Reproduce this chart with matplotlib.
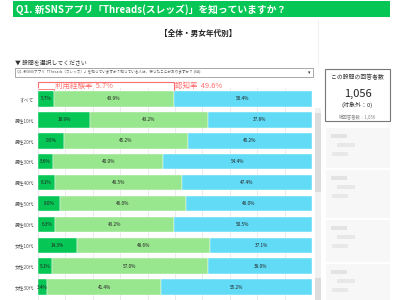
import matplotlib
matplotlib.use("Agg")
import matplotlib.pyplot as plt
from matplotlib.patches import Rectangle, FancyBboxPatch

plt.rcParams['font.family'] = ['Noto Sans CJK JP', 'DejaVu Sans']

categories = ["すべて", "男性10代", "男性20代", "男性30代", "男性40代",
              "男性50代", "男性60代", "女性10代", "女性20代", "女性30代"]
used = [5.7, 18.9, 9.5, 5.6, 6.1, 8.0, 6.3, 14.3, 5.1, 3.4]
known = [43.9, 43.2, 45.2, 40.0, 46.5, 46.0, 43.2, 48.6, 57.0, 41.4]
unknown = [50.4, 37.8, 45.2, 54.4, 47.4, 46.0, 50.5, 37.1, 38.0, 55.2]
seg_colors = ["#06C755", "#98E68E", "#62DBF7"]

W, H = 400, 300
fig = plt.figure(figsize=(4, 3), dpi=100)
bg = fig.add_axes([0, 0, 1, 1])
bg.set_xlim(0, W)
bg.set_ylim(H, 0)
bg.axis("off")

# header
bg.add_patch(Rectangle((13, 1), 377, 16, color="#06C755", lw=0))
bg.text(16, 9.5, "Q1. 新SNSアプリ「Threads(スレッズ)」を知っていますか？",
        color="white", fontsize=7, fontweight="bold", va="center", ha="left")
bg.text(198, 33, "【全体・男女年代別】", fontsize=5.5, fontweight="bold",
        ha="center", va="center", color="#222222")

# selector
bg.text(15, 62, "▼ 設問を選択してください", fontsize=4.2, va="center", ha="left",
        color="#333333", family=["DejaVu Sans"] if False else None)
bg.add_patch(Rectangle((15, 67.5), 298, 9.5, fill=False, ec="#9a9a9a", lw=0.6))
bg.text(17, 72.3, "Q1. 新SNSアプリ「Threads（スレッズ）」を知っていますか？知っている人は、使ったことがありますか？ (SA)",
        fontsize=2.6, va="center", ha="left", color="#555555")
bg.text(310, 72.3, "▾", fontsize=3.5, va="center", ha="right", color="#333333",
        family=["DejaVu Sans"])

# scrollbar
bg.add_patch(Rectangle((314.5, 108), 6, 192, color="#f1f1f1", lw=0))
bg.add_patch(Rectangle((314.5, 113), 6, 79, color="#dcdcdc", lw=0))
bg.add_patch(Rectangle((314.5, 278), 6, 22, color="#dcdcdc", lw=0))
bg.plot([318, 318], [20, 66], color="#eeeeee", lw=0.6)

# right panel
bg.add_patch(Rectangle((325, 69), 65, 52, fill=False, ec="#777777", lw=0.8))
bg.text(357.5, 77, "この設問の回答者数", fontsize=4.2, ha="center", va="center", color="#333333")
bg.text(357.5, 94, "1,056", fontsize=8, ha="center", va="center", color="#222222")
bg.text(357.5, 104.5, "(対象外：0)", fontsize=4.3, ha="center", va="center", color="#333333")
bg.text(357.5, 117, "総回答者数：1,056", fontsize=3.2, ha="center", va="center", color="#888888")
for (y0, h) in [(128, 40), (170, 48), (220, 42), (264, 48)]:
    bg.add_patch(Rectangle((326, y0), 64, h, color="#f7f7f7", lw=0))
    bg.add_patch(Rectangle((331, y0 + 6), 16, 4, color="#e3e3e3", lw=0))
    bg.add_patch(Rectangle((337, y0 + 15), 18, 4, color="#e8e8e8", lw=0))
    bg.add_patch(Rectangle((332, y0 + 24), 16, 4, color="#e8e8e8", lw=0))

# bar axes: x px 38..312, row i centre at 99 + 20.9*i
x0, x1 = 38, 312
ytop, ybot = 88, 300
step, c0 = 20.9, 99
ax = fig.add_axes([x0 / W, 1 - ybot / H, (x1 - x0) / W, (ybot - ytop) / H])
ax.set_xlim(0, 100)
ax.set_ylim((ybot - c0) / step, (ytop - c0) / step)
for s in ax.spines.values():
    s.set_visible(False)
ax.set_xticks(range(0, 101, 10))
ax.set_xticklabels([])
ax.tick_params(axis="x", length=0)
ax.grid(axis="x", color="#e6e6e6", lw=0.6)
ax.set_axisbelow(True)
ax.set_yticks(range(len(categories)))
ax.set_yticklabels(categories, fontsize=3.4, color="#555555")
ax.tick_params(axis="y", length=0, pad=3)
ax.set_facecolor("none")

ys = list(range(len(categories)))
left = [0] * len(categories)
for vals, col in zip([used, known, unknown], seg_colors):
    ax.barh(ys, vals, left=left, height=0.74, color=col, ec="white", lw=0.3)
    for y, l, v in zip(ys, left, vals):
        ax.text(l + v / 2, y, f"{v:.1f}%", fontsize=3.4, ha="center", va="center", color="#222222")
    left = [a + b for a, b in zip(left, vals)]

# annotation brackets
red = "#FF6F6F"
aware = used[0] + known[0]
xa = lambda v: x0 + (x1 - x0) * v / 100
bg.plot([xa(0), xa(0), xa(aware), xa(aware)], [90.5, 82, 82, 90.5], color=red, lw=0.8)
bg.plot([xa(0), xa(0), xa(used[0]), xa(used[0])], [91.5, 88.5, 88.5, 91.5], color=red, lw=0.6)
bg.text(55, 86, f"利用経験率  {used[0]:.1f}%", fontsize=5.4, color=red, ha="left", va="center")
bg.text(175, 86, f"認知率  {aware:.1f}%", fontsize=5.4, color=red, ha="left", va="center")

fig.savefig("out.png", dpi=100)
